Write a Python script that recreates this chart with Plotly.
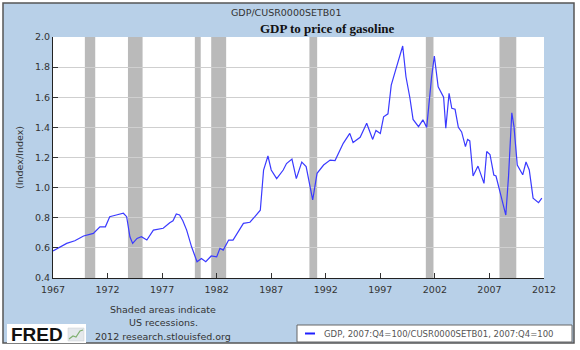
import plotly.graph_objects as go

# ---- data ----
years = [1967.0, 1968.25, 1969.0, 1969.8, 1970.7, 1971.3, 1971.8, 1972.2, 1972.8, 1973.45,
         1973.75, 1974.05, 1974.3, 1974.7, 1975.1, 1975.6, 1976.2, 1977.1, 1977.7, 1978.0,
         1978.3, 1978.6, 1978.9, 1979.25, 1979.7, 1980.2, 1980.6, 1981.0, 1981.5, 1982.0,
         1982.3, 1982.6, 1983.1, 1983.5, 1984.45, 1985.05, 1985.5, 1986.0, 1986.3, 1986.7,
         1987.0, 1987.5, 1988.1, 1988.4, 1988.9, 1989.3, 1989.8, 1990.2, 1990.8, 1991.2,
         1991.8, 1992.4, 1992.85, 1993.6, 1994.2, 1994.5, 1995.15, 1995.75, 1996.3, 1996.6,
         1997.0, 1997.3, 1997.7, 1998.0, 1998.4, 1999.05, 1999.35, 1999.7, 2000.0, 2000.5,
         2000.9, 2001.25, 2001.7, 2001.95, 2002.3, 2002.8, 2003.0, 2003.3, 2003.55, 2003.85,
         2004.15, 2004.45, 2004.8, 2005.0, 2005.2, 2005.5, 2005.95, 2006.5, 2006.75, 2007.05,
         2007.4, 2007.6, 2008.0, 2008.5, 2008.75, 2009.05, 2009.25, 2009.55, 2010.05, 2010.35,
         2010.65, 2011.0, 2011.5, 2011.8]
ratio = [0.58, 0.63, 0.647, 0.679, 0.696, 0.74, 0.74, 0.807, 0.818, 0.83,
         0.807, 0.674, 0.63, 0.663, 0.674, 0.652, 0.718, 0.73, 0.767, 0.78,
         0.825, 0.818, 0.78, 0.718, 0.607, 0.508, 0.53, 0.508, 0.546, 0.54,
         0.597, 0.585, 0.652, 0.652, 0.763, 0.77, 0.807, 0.85, 1.117, 1.21,
         1.117, 1.06, 1.117, 1.16, 1.19, 1.06, 1.17, 1.14, 0.918, 1.095,
         1.15, 1.183, 1.18, 1.294, 1.36, 1.30, 1.334, 1.427, 1.32, 1.38,
         1.36, 1.47, 1.49, 1.68, 1.78, 1.94, 1.736, 1.60, 1.453, 1.405,
         1.45, 1.40, 1.736, 1.874, 1.67, 1.60, 1.394, 1.626, 1.527, 1.52,
         1.40, 1.37, 1.272, 1.32, 1.31, 1.077, 1.143, 1.028, 1.24, 1.22,
         1.084, 1.077, 0.962, 0.818, 1.077, 1.497, 1.405, 1.15, 1.085, 1.17,
         1.117, 0.93, 0.90, 0.93]

recession_start = [1969.92, 1973.87, 1980.0, 1981.5, 1990.5, 2001.17, 2007.92]
recession_end = [1970.87, 1975.21, 1980.54, 1982.87, 1991.21, 2001.87, 2009.46]

x_ticks = [1967, 1972, 1977, 1982, 1987, 1992, 1997, 2002, 2007, 2012]
y_ticks = [0.4, 0.6, 0.8, 1.0, 1.2, 1.4, 1.6, 1.8, 2.0]

# ---- layout geometry (pixels) ----
W, H = 580, 350
L, R, T, B = 53, 36, 37, 72
PW, PH = W - L - R, H - T - B


def px(x):
    return (x - L) / PW


def py(y):
    return (H - B - y) / PH


BG = "#b8d0e8"
FONT = "DejaVu Sans"

fig = go.Figure()
fig.add_trace(go.Scatter(x=years, y=ratio, mode="lines",
                         line=dict(color="#3a3aff", width=1.2),
                         showlegend=False, hoverinfo="skip"))

shapes = []
# outer frame
shapes.append(dict(type="rect", xref="paper", yref="paper",
                   x0=px(3), x1=px(574), y0=py(343), y1=py(3),
                   fillcolor=BG, line=dict(color="#555555", width=1.5), layer="below"))
# plot area white
shapes.append(dict(type="rect", xref="paper", yref="paper",
                   x0=0, x1=1, y0=0, y1=1, fillcolor="white",
                   line=dict(width=0), layer="below"))
for s, e in zip(recession_start, recession_end):
    shapes.append(dict(type="rect", xref="x", yref="paper", x0=s, x1=e, y0=0, y1=1,
                       fillcolor="#bababa", line=dict(width=0), layer="below"))
# legend box
shapes.append(dict(type="rect", xref="paper", yref="paper",
                   x0=px(297), x1=px(572), y0=py(342), y1=py(325),
                   fillcolor="white", line=dict(color="#666666", width=1)))
shapes.append(dict(type="line", xref="paper", yref="paper",
                   x0=px(305), x1=px(315), y0=py(333.5), y1=py(333.5),
                   line=dict(color="#2020ff", width=2)))
# FRED logo box
shapes.append(dict(type="rect", xref="paper", yref="paper",
                   x0=px(7), x1=px(86), y0=py(343), y1=py(324),
                   fillcolor="white", line=dict(width=0)))
shapes.append(dict(type="rect", xref="paper", yref="paper",
                   x0=px(68), x1=px(84), y0=py(341), y1=py(328),
                   fillcolor="#e4e8ec", line=dict(color="#c8ccd0", width=0.5)))
shapes.append(dict(type="path", xref="paper", yref="paper",
                   path="M {} {} L {} {} L {} {} L {} {} L {} {}".format(
                       px(69), py(339), px(73), py(336), px(76), py(337),
                       px(80), py(331), px(83), py(330)),
                   line=dict(color="#7fb070", width=1.2)))

fig.update_layout(
    width=W, height=H,
    margin=dict(l=L, r=R, t=T, b=B),
    paper_bgcolor="white", plot_bgcolor="white",
    shapes=shapes,
    font=dict(family=FONT, size=9, color="#333333"),
    xaxis=dict(range=[1967, 2012], tickvals=x_ticks, ticktext=[str(v) for v in x_ticks],
               ticks="inside", ticklen=5, tickcolor="#333333", showgrid=False,
               showline=True, linecolor="#222222", linewidth=1, zeroline=False,
               ticklabelstandoff=3,
               tickfont=dict(family=FONT, size=9.5, color="#333333")),
    yaxis=dict(range=[0.4, 2.0], tickvals=y_ticks, ticktext=["%.1f" % v for v in y_ticks],
               ticks="inside", ticklen=5, tickcolor="#333333",
               showgrid=True, gridcolor="#cfcfcf", gridwidth=1,
               showline=True, linecolor="#222222", linewidth=1, zeroline=False,
               tickfont=dict(family=FONT, size=9.5, color="#333333"),
               title=dict(text="(Index/Index)", font=dict(family=FONT, size=9.5, color="#333333"),
                          standoff=9)),
    annotations=[
        dict(text="GDP/CUSR0000SETB01", xref="paper", yref="paper", x=px(286), y=py(13),
             showarrow=False, xanchor="center", yanchor="middle",
             font=dict(family=FONT, size=9.5, color="#333333")),
        dict(text="<b>GDP to price of gasoline</b>", xref="paper", yref="paper",
             x=px(327), y=py(29), showarrow=False, xanchor="center", yanchor="middle",
             font=dict(family="Liberation Serif", size=13, color="#111111")),
        dict(text="Shaded areas indicate", xref="paper", yref="paper", x=px(163), y=py(309),
             showarrow=False, xanchor="center", yanchor="middle",
             font=dict(family=FONT, size=9.5, color="#333333")),
        dict(text="US recessions.", xref="paper", yref="paper", x=px(163), y=py(322),
             showarrow=False, xanchor="center", yanchor="middle",
             font=dict(family=FONT, size=9.5, color="#333333")),
        dict(text="2012 research.stlouisfed.org", xref="paper", yref="paper", x=px(163), y=py(336),
             showarrow=False, xanchor="center", yanchor="middle",
             font=dict(family=FONT, size=9.5, color="#333333")),
        dict(text="<b>FRED</b>", xref="paper", yref="paper", x=px(9), y=py(334),
             showarrow=False, xanchor="left", yanchor="middle",
             font=dict(family="Liberation Sans", size=19, color="#111111")),
        dict(text="GDP, 2007:Q4=100/CUSR0000SETB01, 2007:Q4=100", xref="paper", yref="paper",
             x=px(322), y=py(333.5), showarrow=False, xanchor="left", yanchor="middle",
             font=dict(family=FONT, size=8.5, color="#555555")),
    ],
)

fig.write_html("out.html")
